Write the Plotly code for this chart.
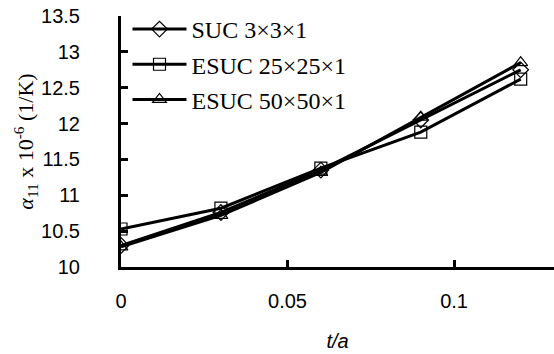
import plotly.graph_objects as go

t_a = [0, 0.03, 0.06, 0.09, 0.12]
suc_3 = [10.30, 10.76, 11.35, 12.05, 12.75]
esuc_25 = [10.53, 10.82, 11.38, 11.88, 12.62]
esuc_50 = [10.28, 10.72, 11.32, 12.09, 12.85]

series = [
    ("SUC 3×3×1", suc_3, "diamond-open"),
    ("ESUC 25×25×1", esuc_25, "square-open"),
    ("ESUC 50×50×1", esuc_50, "triangle-up-open"),
]

fig = go.Figure()
for i, (name, vals, sym) in enumerate(series):
    fig.add_trace(go.Scatter(
        x=t_a, y=vals, name=name, mode="lines+markers", legendgroup=f"g{i}",
        line=dict(color="black", width=3),
        marker=dict(symbol=sym, size=12, color="black", line=dict(width=1.2, color="black")),
    ))

fig.update_layout(
    width=554, height=354,
    margin=dict(l=121, r=0, t=16, b=87, autoexpand=False),
    plot_bgcolor="white", paper_bgcolor="white",
    showlegend=True,
    legend=dict(x=0.015, y=1.036, xanchor="left", yanchor="top",
                font=dict(family="Liberation Serif", size=24, color="black"),
                bgcolor="rgba(0,0,0,0)", traceorder="grouped", tracegroupgap=1, itemwidth=54),
    font=dict(family="Liberation Sans", size=20, color="black"),
)
fig.update_xaxes(
    range=[0, 0.13], tickvals=[0, 0.05, 0.1], ticktext=["0", "0.05", "0.1"],
    showline=True, linecolor="black", linewidth=3,
    ticks="inside", ticklen=7, tickwidth=3, tickcolor="black",
    showgrid=False, zeroline=False, automargin=False, ticklabelstandoff=14,
    tickfont=dict(family="Liberation Sans", size=20),
    title=dict(text="<i>t/a</i>", font=dict(family="Liberation Sans", size=20), standoff=23),
)
fig.update_yaxes(
    range=[10, 13.5], tickvals=[10, 10.5, 11, 11.5, 12, 12.5, 13, 13.5],
    ticktext=["10", "10.5", "11", "11.5", "12", "12.5", "13", "13.5"],
    showline=True, linecolor="black", linewidth=3,
    ticks="inside", ticklen=7, tickwidth=3, tickcolor="black",
    showgrid=False, zeroline=False, automargin=False, ticklabelstandoff=34,
    tickfont=dict(family="Liberation Sans", size=20),
    title=dict(text="<i>α</i><sub>11</sub> x 10<sup>-6</sup> (1/K)",
               font=dict(family="Liberation Serif", size=22), standoff=0),
)
fig.write_html("out.html", config={"displayModeBar": False},
               post_script="document.body.style.margin='0';")
